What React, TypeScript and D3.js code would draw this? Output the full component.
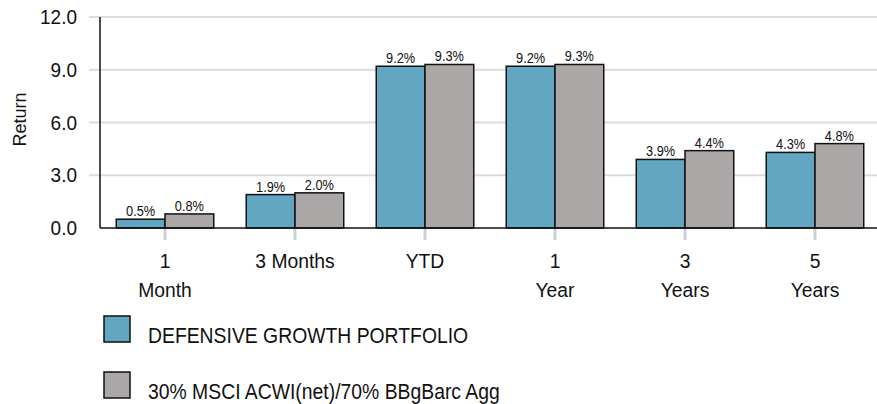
import React, { useEffect, useRef } from 'react';
import * as d3 from 'd3';

const periods = ['1 Month', '3 Months', 'YTD', '1 Year', '3 Years', '5 Years'];
const periodLines = [['1', 'Month'], ['3 Months'], ['YTD'], ['1', 'Year'], ['3', 'Years'], ['5', 'Years']];
const seriesNames = ['DEFENSIVE GROWTH PORTFOLIO', '30% MSCI ACWI(net)/70% BBgBarc Agg'];
const portfolio = [0.5, 1.9, 9.2, 9.2, 3.9, 4.3];
const benchmark = [0.8, 2.0, 9.3, 9.3, 4.4, 4.8];
const yTicks = [0, 3, 6, 9, 12];
const colors = ['#62a6c2', '#aba7a6'];

const W = 877;
const H = 404;
const FONT = '"Liberation Sans", Arial, sans-serif';

const App = () => {
  const svgRef = useRef<SVGSVGElement | null>(null);

  useEffect(() => {
    if (!svgRef.current) return;
    const svg = d3.select(svgRef.current);
    svg.selectAll('*').remove();

    svg.append('rect').attr('width', W).attr('height', H).attr('fill', 'white');

    const x = d3.scaleBand<string>().domain(periods).range([100, 880]).paddingInner(0.25).paddingOuter(0.125);
    const y = d3.scaleLinear().domain([0, 12]).range([228, 17]);
    const sub = d3.scaleBand<number>().domain([0, 1]).range([0, x.bandwidth()]);
    const cx = (p: string) => (x(p) as number) + x.bandwidth() / 2;

    // gridlines
    svg.append('g')
      .selectAll('line')
      .data(yTicks.filter(t => t > 0))
      .enter()
      .append('line')
      .attr('x1', 89).attr('x2', W)
      .attr('y1', d => y(d)).attr('y2', d => y(d))
      .attr('stroke', '#dcdcdc').attr('stroke-width', 2);

    // y labels
    svg.append('g')
      .selectAll('text')
      .data(yTicks)
      .enter()
      .append('text')
      .attr('transform', d => `translate(77,${y(d) + 7}) scale(0.95,1)`)
      .attr('text-anchor', 'end')
      .attr('font-family', FONT)
      .attr('font-size', 20)
      .attr('fill', '#111')
      .text(d => d3.format('.1f')(d));

    svg.append('text')
      .attr('transform', `translate(26, ${y(6) - 3}) rotate(-90)`)
      .attr('text-anchor', 'middle')
      .attr('font-family', FONT)
      .attr('font-size', 18)
      .attr('fill', '#111')
      .text('Return');

    // x category ticks
    svg.append('g')
      .selectAll('line')
      .data(periods)
      .enter()
      .append('line')
      .attr('x1', d => cx(d))
      .attr('x2', d => cx(d))
      .attr('y1', y(0)).attr('y2', y(0) + 12)
      .attr('stroke', '#c9d0d6').attr('stroke-width', 3);

    // bars
    const data = periods.map((p, i) => ({ p, vals: [portfolio[i], benchmark[i]] }));
    const groups = svg.append('g')
      .selectAll('g')
      .data(data)
      .enter()
      .append('g')
      .attr('transform', d => `translate(${x(d.p)},0)`);

    groups.selectAll('rect')
      .data(d => d.vals.map((v, k) => ({ v, k })))
      .enter()
      .append('rect')
      .attr('x', d => sub(d.k) as number)
      .attr('y', d => y(d.v))
      .attr('width', sub.bandwidth())
      .attr('height', d => y(0) - y(d.v))
      .attr('fill', d => colors[d.k])
      .attr('stroke', '#111')
      .attr('stroke-width', 1.5);

    groups.selectAll('text')
      .data(d => d.vals.map((v, k) => ({ v, k })))
      .enter()
      .append('text')
      .attr('transform', d => `translate(${(sub(d.k) as number) + sub.bandwidth() / 2},${y(d.v) - 3}) scale(0.85,1)`)
      .attr('text-anchor', 'middle')
      .attr('font-family', FONT)
      .attr('font-size', 15)
      .attr('fill', '#111')
      .text(d => d3.format('.1f')(d.v) + '%');

    // axes lines
    svg.append('line').attr('x1', 100).attr('x2', 100).attr('y1', 17).attr('y2', y(0))
      .attr('stroke', '#111').attr('stroke-width', 1.5);
    svg.append('line').attr('x1', 100).attr('x2', W).attr('y1', y(0)).attr('y2', y(0))
      .attr('stroke', '#111').attr('stroke-width', 1.5);

    // x labels
    const xl = svg.append('g')
      .selectAll('g')
      .data(periods.map((p, i) => ({ p, lines: periodLines[i] })))
      .enter()
      .append('g');
    xl.selectAll('text')
      .data(d => d.lines.map(l => ({ l, c: cx(d.p) })))
      .enter()
      .append('text')
      .attr('transform', (d, i) => `translate(${d.c},${268 + i * 29}) scale(0.92,1)`)
      .attr('text-anchor', 'middle')
      .attr('font-family', FONT)
      .attr('font-size', 21)
      .attr('fill', '#111')
      .text(d => d.l);

    // legend
    const lg = svg.append('g')
      .selectAll('g')
      .data(seriesNames)
      .enter()
      .append('g')
      .attr('transform', (d, i) => `translate(104, ${316 + i * 56})`);
    lg.append('rect')
      .attr('width', 26).attr('height', 26)
      .attr('fill', (d, i) => colors[i])
      .attr('stroke', '#111').attr('stroke-width', 1.5);
    lg.append('text')
      .attr('transform', `translate(44,27) scale(0.88,1)`)
      .attr('font-family', FONT)
      .attr('font-size', 22)
      .attr('fill', '#111')
      .text(d => d);
  }, []);

  return (
    <svg ref={svgRef} width={W} height={H} style={{ display: 'block', position: 'absolute', left: 0, top: 0 }} />
  );
};

export default App;
